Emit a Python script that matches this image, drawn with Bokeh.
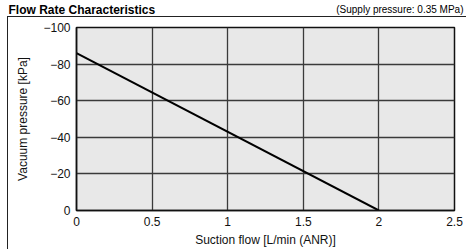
from bokeh.plotting import figure
from bokeh.layouts import column
from bokeh.models import Range1d, FixedTicker, CustomJSTickFormatter, Label
from bokeh.embed import file_html
from bokeh.resources import INLINE

# ---- data ----
title_text = "Flow Rate Characteristics"
subtitle_text = "(Supply pressure: 0.35 MPa)"
x_label = "Suction flow [L/min (ANR)]"
y_label = "Vacuum pressure [kPa]"
x_ticks = [0, 0.5, 1, 1.5, 2, 2.5]
y_ticks = [0, -20, -40, -60, -80, -100]
flow = [0, 2.0]
vacuum = [-86, 0]

FONT = "Liberation Sans"
W, H, HEAD = 466, 249, 15

# ---- heading strip (its own full-width frame, pixel-sized ranges) ----
tf = figure(width=W, height=HEAD, output_backend="svg", toolbar_location=None,
            x_range=Range1d(0, W), y_range=Range1d(0, HEAD),
            x_axis_type=None, y_axis_type=None, min_border=0)
tf.frame_align = False
tf.outline_line_color = None
tf.background_fill_color = None
tf.border_fill_color = None
tf.add_layout(Label(x=8, y=5.5, text=title_text, text_font=FONT,
                    text_font_size="12px", text_font_style="bold", text_color="black",
                    text_baseline="alphabetic"))
tf.add_layout(Label(x=463, y=6.5, text=subtitle_text, text_font=FONT,
                    text_font_size="10px", text_color="black", text_align="right",
                    text_baseline="alphabetic"))

# ---- chart ----
box_css = ("linear-gradient(#222222,#222222) 7px 1px / 1px 100% no-repeat, "
           "linear-gradient(#222222,#222222) 7px 1px / 100% 1px no-repeat")
p = figure(width=W, height=H - HEAD, output_backend="svg", toolbar_location=None,
           x_range=Range1d(0, 2.5), y_range=Range1d(0, -100),
           min_border_left=76, min_border_right=12, min_border_top=12, min_border_bottom=38,
           styles={"background": box_css})
p.frame_align = False

p.background_fill_color = "#e8e8e8"
p.border_fill_color = None
p.outline_line_color = "#111111"
p.outline_line_width = 1.5

p.xaxis.ticker = FixedTicker(ticks=x_ticks)
p.yaxis.ticker = FixedTicker(ticks=y_ticks)
p.yaxis.formatter = CustomJSTickFormatter(code="return tick == 0 ? '0' : '\u2212' + Math.abs(tick);")

for ax in (p.xaxis[0], p.yaxis[0]):
    ax.axis_line_color = "#111111"
    ax.axis_line_width = 1.5
    ax.major_tick_line_color = None
    ax.minor_tick_line_color = None
    ax.major_tick_out = 0
    ax.major_tick_in = 0
    ax.major_label_standoff = 6
    ax.major_label_text_font = FONT
    ax.major_label_text_font_size = "12px"
    ax.major_label_text_color = "#111111"
    ax.axis_label_text_font = FONT
    ax.axis_label_text_font_size = "12px"
    ax.axis_label_text_font_style = "normal"
    ax.axis_label_text_color = "#111111"

p.xaxis.axis_label = x_label
p.yaxis.axis_label = y_label
p.xaxis.axis_label_standoff = 4
p.yaxis.axis_label_standoff = 10

p.grid.grid_line_color = "#3a3a3a"
p.grid.grid_line_width = 1.3

p.line(flow, vacuum, line_color="black", line_width=2)

layout = column(tf, p, spacing=0)

open("out.html", "w").write(file_html(layout, INLINE))
